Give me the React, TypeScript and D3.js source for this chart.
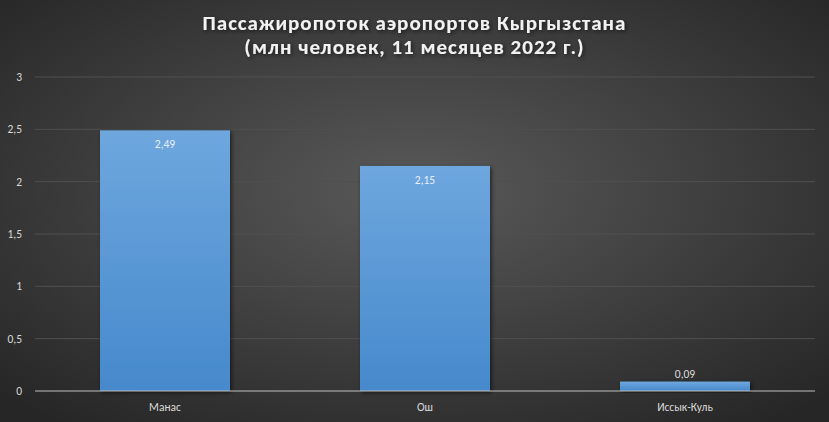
import React from "react";
import * as d3 from "d3";

const categories = ["Манас", "Ош", "Иссык-Куль"];
const values = [2.49, 2.15, 0.09];
const valueLabels = ["2,49", "2,15", "0,09"];
const yTicks = [0, 0.5, 1, 1.5, 2, 2.5, 3];
const titleLines = ["Пассажиропоток аэропортов Кыргызстана", "(млн человек, 11 месяцев 2022 г.)"];

const W = 829, H = 422;
const M = { left: 35, right: 14, top: 77, bottom: 31 };

export default function App() {
  const x = d3.scaleBand<string>().domain(categories).range([M.left, W - M.right]).paddingInner(0.5).paddingOuter(0.25);
  const y = d3.scaleLinear().domain([0, 3]).range([H - M.bottom, M.top]);
  const fmt = (v: number) => String(v).replace(".", ",");
  const font = "Calibri, Carlito, 'Open Sans', sans-serif";
  return (
    <svg width={W} height={H} style={{ position: "absolute", left: 0, top: 0 }}>
      <defs>
        <radialGradient id="bg" cx="50%" cy="45%" r="70%">
          <stop offset="0%" stopColor="#595959" />
          <stop offset="100%" stopColor="#262626" />
        </radialGradient>
        <linearGradient id="bar" x1="0" y1="0" x2="0" y2="1" gradientUnits="objectBoundingBox">
          <stop offset="0%" stopColor="#6ea7de" />
          <stop offset="100%" stopColor="#4689cc" />
        </linearGradient>
        <filter id="shadow" x="-20%" y="-20%" width="140%" height="140%">
          <feDropShadow dx="1.5" dy="1.5" stdDeviation="2" floodColor="#000" floodOpacity="0.6" />
        </filter>
      </defs>
      <rect x={0} y={0} width={W} height={H} fill="url(#bg)" />
      {titleLines.map((t, i) => (
        <text key={i} x={W / 2} y={30 + i * 24} textAnchor="middle" fill="#f2f2f2" fontFamily={font}
          fontWeight="bold" fontSize={21} filter="url(#shadow)" style={{ letterSpacing: "1px" }}>{t}</text>
      ))}
      {yTicks.map((t) => (
        <g key={t}>
          {t !== 0 && (
            <line x1={M.left} x2={W - M.right} y1={y(t)} y2={y(t)} stroke="#505050" strokeWidth={1} />
          )}
          <text x={22} y={y(t) + 4} textAnchor="end" fill="#d9d9d9" fontFamily={font} fontSize={11.5}>{fmt(t)}</text>
        </g>
      ))}
      {categories.map((c, i) => {
        const bx = x(c)!;
        const by = y(values[i]);
        const bh = y(0) - by;
        const inside = bh > 25;
        return (
          <g key={c}>
            <rect x={bx} y={by} width={x.bandwidth()} height={bh} fill="url(#bar)" filter="url(#shadow)" />
            <text x={bx + x.bandwidth() / 2} y={inside ? by + 18 : by - 4} textAnchor="middle"
              fill={inside ? "#e8eef7" : "#d9d9d9"} fontFamily={font} fontSize={11.5}>{valueLabels[i]}</text>
            <text x={bx + x.bandwidth() / 2} y={y(0) + 20} textAnchor="middle" fill="#d9d9d9"
              fontFamily={font} fontSize={11.5}>{c}</text>
          </g>
        );
      })}
      <line x1={M.left} x2={W - M.right} y1={y(0)} y2={y(0)} stroke="#bfbfbf" strokeWidth={1} />
    </svg>
  );
}
